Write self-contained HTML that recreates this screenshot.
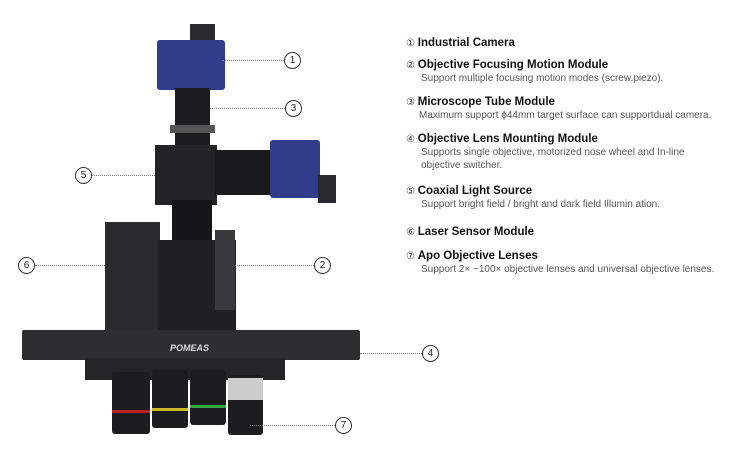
<!DOCTYPE html>
<html><head><style>
body{margin:0;width:730px;height:451px;background:#fff;position:relative;overflow:hidden;font-family:"Liberation Sans",sans-serif}
.a{position:absolute}
.c{position:absolute;width:15px;height:15px;border:1px solid #333;border-radius:50%;font-size:10px;line-height:15px;text-align:center;color:#222;background:#fff}
.l{position:absolute;border-top:1px dotted #777;height:0}
.t{position:absolute;left:406px;font-size:10px;color:#333;letter-spacing:0;line-height:13px}
.t b{font-size:11.5px;color:#111;letter-spacing:0}
.t span{display:block;margin-left:15px;color:#555}
</style></head><body>
<div class="a" style="left:190px;top:24px;width:25px;height:20px;background:#2a2a2e"></div>
<div class="a" style="left:157px;top:40px;width:68px;height:50px;background:#2f3d8a;border-radius:3px"></div>
<div class="a" style="left:175px;top:88px;width:35px;height:62px;background:#1c1c1e"></div>
<div class="a" style="left:170px;top:125px;width:45px;height:8px;background:#555"></div>
<div class="a" style="left:155px;top:145px;width:62px;height:60px;background:#232326"></div>
<div class="a" style="left:215px;top:150px;width:60px;height:45px;background:#1a1a1c"></div>
<div class="a" style="left:270px;top:140px;width:50px;height:58px;background:#2f3d8a;border-radius:3px"></div>
<div class="a" style="left:318px;top:175px;width:18px;height:28px;background:#2a2a2e"></div>
<div class="a" style="left:172px;top:200px;width:40px;height:60px;background:#161618"></div>
<div class="a" style="left:105px;top:222px;width:55px;height:112px;background:#2b2b2e"></div>
<div class="a" style="left:158px;top:240px;width:78px;height:95px;background:#202022"></div>
<div class="a" style="left:215px;top:230px;width:20px;height:80px;background:#3a3a3d"></div>
<div class="a" style="left:22px;top:330px;width:338px;height:30px;background:#2e2e31;border-radius:2px"></div>
<div class="a" style="left:170px;top:343px;font-size:9px;color:#ddd;font-weight:bold;font-style:italic">POMEAS</div>
<div class="a" style="left:85px;top:358px;width:200px;height:22px;background:#252527"></div>
<div class="a" style="left:112px;top:372px;width:38px;height:62px;background:#1d1d1f;border-radius:3px"></div>
<div class="a" style="left:152px;top:370px;width:36px;height:58px;background:#1d1d1f;border-radius:3px"></div>
<div class="a" style="left:190px;top:370px;width:36px;height:55px;background:#1d1d1f;border-radius:3px"></div>
<div class="a" style="left:228px;top:375px;width:35px;height:60px;background:#1d1d1f;border-radius:3px"></div>
<div class="a" style="left:112px;top:410px;width:38px;height:3px;background:#b22"></div>
<div class="a" style="left:152px;top:408px;width:36px;height:3px;background:#cb2"></div>
<div class="a" style="left:190px;top:405px;width:36px;height:3px;background:#3a4"></div>
<div class="a" style="left:228px;top:378px;width:35px;height:22px;background:#ccc"></div>
<div class="l" style="left:222px;top:60px;width:62px"></div><div class="c" style="left:284px;top:52px">1</div>
<div class="l" style="left:210px;top:108px;width:75px"></div><div class="c" style="left:285px;top:100px">3</div>
<div class="l" style="left:92px;top:175px;width:63px"></div><div class="c" style="left:75px;top:167px">5</div>
<div class="l" style="left:35px;top:265px;width:70px"></div><div class="c" style="left:18px;top:257px">6</div>
<div class="l" style="left:235px;top:265px;width:79px"></div><div class="c" style="left:314px;top:257px">2</div>
<div class="l" style="left:360px;top:353px;width:62px"></div><div class="c" style="left:422px;top:345px">4</div>
<div class="l" style="left:250px;top:425px;width:85px"></div><div class="c" style="left:335px;top:417px">7</div>
<div class="t" style="top:37px">① <b>Industrial Camera</b></div>
<div class="t" style="top:59px">② <b>Objective Focusing Motion Module</b><span>Support multiple focusing motion modes (screw,piezo).</span></div>
<div class="t" style="top:96px">③ <b>Microscope Tube Module</b><span style="margin-left:13px">Maximum support ϕ44mm target surface can supportdual camera.</span></div>
<div class="t" style="top:133px">④ <b>Objective Lens Mounting Module</b><span>Supports single objective, motorized nose wheel and In-line<br>objective switcher.</span></div>
<div class="t" style="top:185px">⑤ <b>Coaxial Light Source</b><span>Support bright field / bright and dark field Illumin ation.</span></div>
<div class="t" style="top:226px">⑥ <b>Laser Sensor Module</b></div>
<div class="t" style="top:250px">⑦ <b>Apo Objective Lenses</b><span>Support 2× ~100× objective lenses and universal objective lenses.</span></div>
</body></html>
